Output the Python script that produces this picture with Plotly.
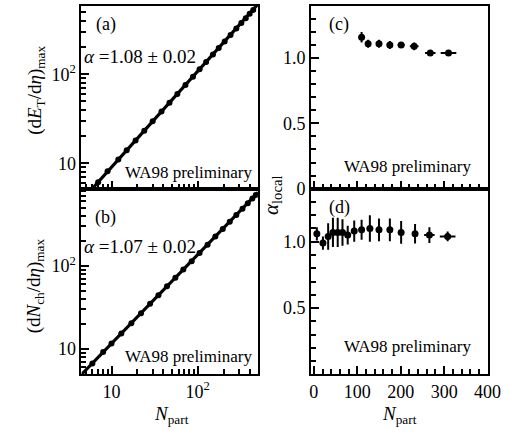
import plotly.graph_objects as go

# ---------------- data ----------------
# panel (a): (dE_T/deta)_max vs N_part
Npart_a = [7, 9, 12, 15, 19, 24, 30, 38, 47, 58, 72, 88, 105, 125, 150, 175, 205, 240, 280, 320, 360, 400, 440]
ET_a = [6.1, 8.1, 11.0, 14.0, 18.0, 23.2, 29.6, 38.2, 48, 60, 76, 94, 114, 137, 167, 197, 233, 277, 326, 377, 427, 478, 529]
alpha_a = 1.08
norm_a = 0.75
# panel (b): (dN_ch/deta)_max vs N_part
Npart_b = [6, 8, 10, 13, 17, 22, 28, 35, 44, 55, 68, 85, 105, 130, 160, 195, 235, 280, 330, 380, 430, 470]
Nch_b = [6.7, 9.2, 11.6, 15.4, 20.4, 26.9, 34.9, 44.4, 56.7, 71.9, 90.2, 114, 143, 180, 225, 278, 340, 409, 488, 567, 647, 711]
alpha_b = 1.07
norm_b = 0.99
fit_range = [4.5, 500]
# panel (c): alpha_local (E_T)
Npart_c = [110, 125, 150, 175, 201, 231, 268, 310]
alpha_c = [1.16, 1.11, 1.11, 1.10, 1.10, 1.09, 1.04, 1.04]
alpha_c_err = [0.04, 0.03, 0.03, 0.03, 0.02, 0.03, 0.015, 0.015]
Npart_c_err = [4, 5, 6, 7, 8, 10, 12, 18]
# panel (d): alpha_local (N_ch)
Npart_d = [7, 21, 33, 44, 55, 66, 78, 93, 110, 129, 150, 175, 201, 233, 266, 308]
alpha_d = [1.06, 0.99, 1.04, 1.07, 1.07, 1.07, 1.05, 1.08, 1.09, 1.10, 1.09, 1.09, 1.07, 1.06, 1.05, 1.04]
alpha_d_err = [0.05, 0.05, 0.10, 0.11, 0.11, 0.10, 0.07, 0.08, 0.075, 0.10, 0.086, 0.086, 0.086, 0.074, 0.06, 0.037]
Npart_d_err = [2, 2, 2, 2, 2, 2, 2, 3, 3, 3, 4, 4, 5, 6, 12, 18]

# tick positions
log_major = [10, 100]
log_labels = ["10", "10<sup>2</sup>"]
log_minor = [4, 5, 6, 7, 8, 9, 20, 30, 40, 50, 60, 70, 80, 90, 200, 300, 400, 500, 600, 700, 800]
lin_x_major = [0, 100, 200, 300, 400]
lin_x_minor = [20, 40, 60, 80, 120, 140, 160, 180, 220, 240, 260, 280, 320, 340, 360, 380]
lin_y_minor = [0.1, 0.2, 0.3, 0.4, 0.6, 0.7, 0.8, 0.9, 1.1, 1.2, 1.3]

SERIF = "Liberation Serif"
W, H = 521, 445

def px_x(p):
    return p / W

def px_y(p):
    return 1 - p / H

fig = go.Figure()

fit_a_y = [norm_a * n ** alpha_a for n in fit_range]
fit_b_y = [norm_b * n ** alpha_b for n in fit_range]
fig.add_trace(go.Scatter(x=fit_range, y=fit_a_y, mode="lines", line=dict(color="black", width=3.2),
                         xaxis="x", yaxis="y", showlegend=False))
fig.add_trace(go.Scatter(x=Npart_a, y=ET_a, mode="markers", marker=dict(color="black", size=6),
                         xaxis="x", yaxis="y", showlegend=False))
fig.add_trace(go.Scatter(x=fit_range, y=fit_b_y, mode="lines", line=dict(color="black", width=3.2),
                         xaxis="x2", yaxis="y2", showlegend=False))
fig.add_trace(go.Scatter(x=Npart_b, y=Nch_b, mode="markers", marker=dict(color="black", size=6),
                         xaxis="x2", yaxis="y2", showlegend=False))
fig.add_trace(go.Scatter(x=Npart_c, y=alpha_c, mode="markers", marker=dict(color="black", size=7),
                         error_y=dict(type="data", array=alpha_c_err, thickness=2, width=0, color="black"),
                         error_x=dict(type="data", array=Npart_c_err, thickness=2, width=0, color="black"),
                         xaxis="x3", yaxis="y3", showlegend=False))
fig.add_trace(go.Scatter(x=Npart_d, y=alpha_d, mode="markers", marker=dict(color="black", size=7),
                         error_y=dict(type="data", array=alpha_d_err, thickness=2, width=0, color="black"),
                         error_x=dict(type="data", array=Npart_d_err, thickness=2, width=0, color="black"),
                         xaxis="x4", yaxis="y4", showlegend=False))

axis_common = dict(showline=True, mirror=True, linecolor="black", linewidth=2, showgrid=False, zeroline=False,
                   ticks="inside", ticklen=8, tickwidth=2, tickcolor="black",
                   tickfont=dict(family=SERIF, size=18, color="black"))

def minor_ticks(vals):
    return dict(tickmode="array", tickvals=vals, ticks="inside", ticklen=5, tickwidth=2,
                tickcolor="black", showgrid=False)

xl_dom = [px_x(82), px_x(264)]
xr_dom = [px_x(319), px_x(501)]
top_dom = [px_y(193), px_y(6)]
bot_dom = [px_y(383), px_y(193)]

log_x = dict(type="log", range=[0.652, 2.697], tickmode="array", tickvals=log_major, ticktext=log_labels,
             minor=minor_ticks(log_minor))
lin_x = dict(type="linear", range=[-6, 400], tickmode="array", tickvals=lin_x_major,
             ticktext=[str(v) for v in lin_x_major], minor=minor_ticks(lin_x_minor))

fig.update_layout(
    width=W, height=H, margin=dict(l=0, r=0, t=0, b=0),
    paper_bgcolor="white", plot_bgcolor="white",
    xaxis=dict(**axis_common, **log_x, domain=xl_dom, anchor="y", showticklabels=False),
    yaxis=dict(**axis_common, type="log", range=[0.714, 2.769], tickmode="array", tickvals=log_major,
               ticktext=log_labels, minor=minor_ticks(log_minor), domain=top_dom, anchor="x"),
    xaxis2=dict(**axis_common, **log_x, domain=xl_dom, anchor="y2"),
    yaxis2=dict(**axis_common, type="log", range=[0.694, 2.929], tickmode="array", tickvals=log_major,
                ticktext=log_labels, minor=minor_ticks(log_minor), domain=bot_dom, anchor="x2"),
    xaxis3=dict(**axis_common, **lin_x, domain=xr_dom, anchor="y3", showticklabels=False),
    yaxis3=dict(**axis_common, range=[0, 1.4], tickmode="array", tickvals=[0, 0.5, 1.0],
                ticktext=["0", "0.5", "1.0"], minor=minor_ticks(lin_y_minor), domain=top_dom, anchor="x3"),
    xaxis4=dict(**axis_common, **lin_x, domain=xr_dom, anchor="y4"),
    yaxis4=dict(**axis_common, range=[0, 1.4], tickmode="array", tickvals=[0.5, 1.0],
                ticktext=["0.5", "1.0"], minor=minor_ticks(lin_y_minor), domain=bot_dom, anchor="x4"),
)

def ann(text, x, y, size=17, angle=0, xanchor="center"):
    fig.add_annotation(text=text, x=px_x(x), y=px_y(y), xref="paper", yref="paper", showarrow=False,
                       textangle=angle, xanchor=xanchor, yanchor="middle",
                       font=dict(family=SERIF, size=size, color="black"))

ann("(a)", 107, 25, 18)
ann("(b)", 107, 222, 18)
ann("(c)", 348, 25, 18)
ann("(d)", 348, 212, 18)
ann("<i>α</i> =1.08 ± 0.02", 83, 58, 19, xanchor="left")
ann("<i>α</i> =1.07 ± 0.02", 83, 252, 19, xanchor="left")
ann("WA98 preliminary", 260, 176, 17, xanchor="right")
ann("WA98 preliminary", 260, 365, 17, xanchor="right")
ann("WA98 preliminary", 486, 170, 17, xanchor="right")
ann("WA98 preliminary", 486, 354, 17, xanchor="right")
ann("(d<i>E</i><sub>T</sub>/d<i>η</i>)<sub>max</sub>", 35, 92, 19, angle=-90)
ann("(d<i>N</i><sub>ch</sub>/d<i>η</i>)<sub>max</sub>", 35, 292, 19, angle=-90)
ann("<i>α</i><sub>local</sub>", 278, 199, 21, angle=-90)
ann("<i>N</i><sub>part</sub>", 175, 425, 19)
ann("<i>N</i><sub>part</sub>", 410, 425, 19)

fig.write_html("out.html")
